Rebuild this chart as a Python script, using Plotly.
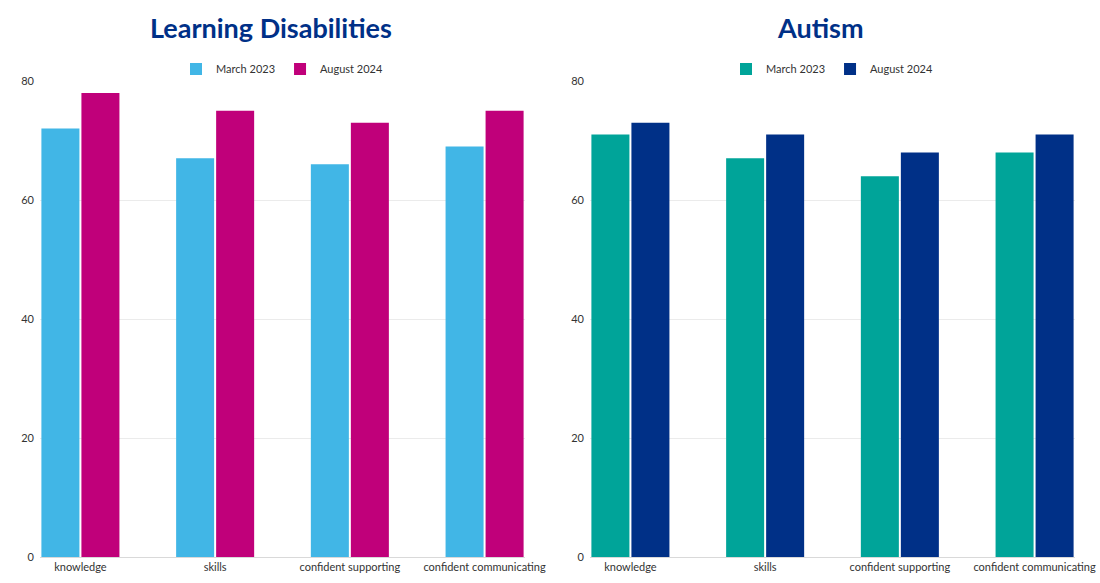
import plotly.graph_objects as go

categories = ["knowledge", "skills", "confident supporting", "confident communicating"]
series_names = ["March 2023", "August 2024"]
ld_march = [72, 67, 66, 69]
ld_august = [78, 75, 73, 75]
autism_march = [71, 67, 64, 68]
autism_august = [73, 71, 68, 71]
y_ticks = [0, 20, 40, 60, 80]

ld_colors = ["#41B6E6", "#C0007A"]
au_colors = ["#00A499", "#003087"]

W, H = 1100, 583


def px(x):
    return x / W


def py(y):
    return 1 - y / H


fig = go.Figure()


def add(vals, name, color, xa, ya, legend):
    fig.add_trace(go.Bar(x=categories, y=vals, name=name, marker=dict(color=color, line=dict(width=0)),
                         xaxis=xa, yaxis=ya, legend=legend, offsetgroup=name))


add(ld_march, series_names[0], ld_colors[0], "x", "y", "legend")
add(ld_august, series_names[1], ld_colors[1], "x", "y", "legend")
add(autism_march, series_names[0], au_colors[0], "x2", "y2", "legend2")
add(autism_august, series_names[1], au_colors[1], "x2", "y2", "legend2")

ydom = [py(557), py(81)]
font = "Lato"
tickfont = dict(family=font, size=11, color="#333333")

xcommon = dict(type="category", range=[-0.3, 3.3], showgrid=False, showline=True,
               linecolor="#d9d9d9", linewidth=1, ticks="", tickfont=tickfont, fixedrange=True,
               automargin=False)
ycommon = dict(range=[0, 80], tickvals=y_ticks, showgrid=True, gridcolor="#ebebeb", gridwidth=1,
               zeroline=False, showline=False, ticks="", tickfont=tickfont, ticklabelstandoff=5,
               fixedrange=True, automargin=False)

legfont = dict(family=font, size=11, color="#333333")

fig.update_layout(
    template="none",
    width=W, height=H, autosize=False,
    margin=dict(l=0, r=0, t=0, b=0, pad=0, autoexpand=False),
    paper_bgcolor="white", plot_bgcolor="white",
    barmode="group", bargap=0.406, bargroupgap=0.05,
    xaxis=dict(domain=[px(40), px(525)], anchor="y", **xcommon),
    yaxis=dict(domain=ydom, anchor="x", **ycommon),
    xaxis2=dict(domain=[px(590), px(1075)], anchor="y2", **xcommon),
    yaxis2=dict(domain=ydom, anchor="x2", **ycommon),
    legend=dict(orientation="h", x=px(282), y=py(69), xanchor="center", yanchor="middle",
                font=legfont, itemwidth=30, tracegroupgap=0, bgcolor="rgba(0,0,0,0)", borderwidth=0),
    legend2=dict(orientation="h", x=px(832), y=py(69), xanchor="center", yanchor="middle",
                 font=legfont, itemwidth=30, tracegroupgap=0, bgcolor="rgba(0,0,0,0)", borderwidth=0),
    annotations=[
        dict(text="<b>Learning Disabilities</b>", x=px(271), y=py(27), xref="paper", yref="paper",
             xanchor="center", yanchor="middle", showarrow=False,
             font=dict(family=font, size=27, color="#003087")),
        dict(text="<b>Autism</b>", x=px(820), y=py(27), xref="paper", yref="paper",
             xanchor="center", yanchor="middle", showarrow=False,
             font=dict(family=font, size=27, color="#003087")),
    ],
    showlegend=True,
)

fig.write_html(
    "out.html",
    config={"displayModeBar": False},
    post_script="document.body.style.margin='0';document.body.style.overflow='hidden';",
)
